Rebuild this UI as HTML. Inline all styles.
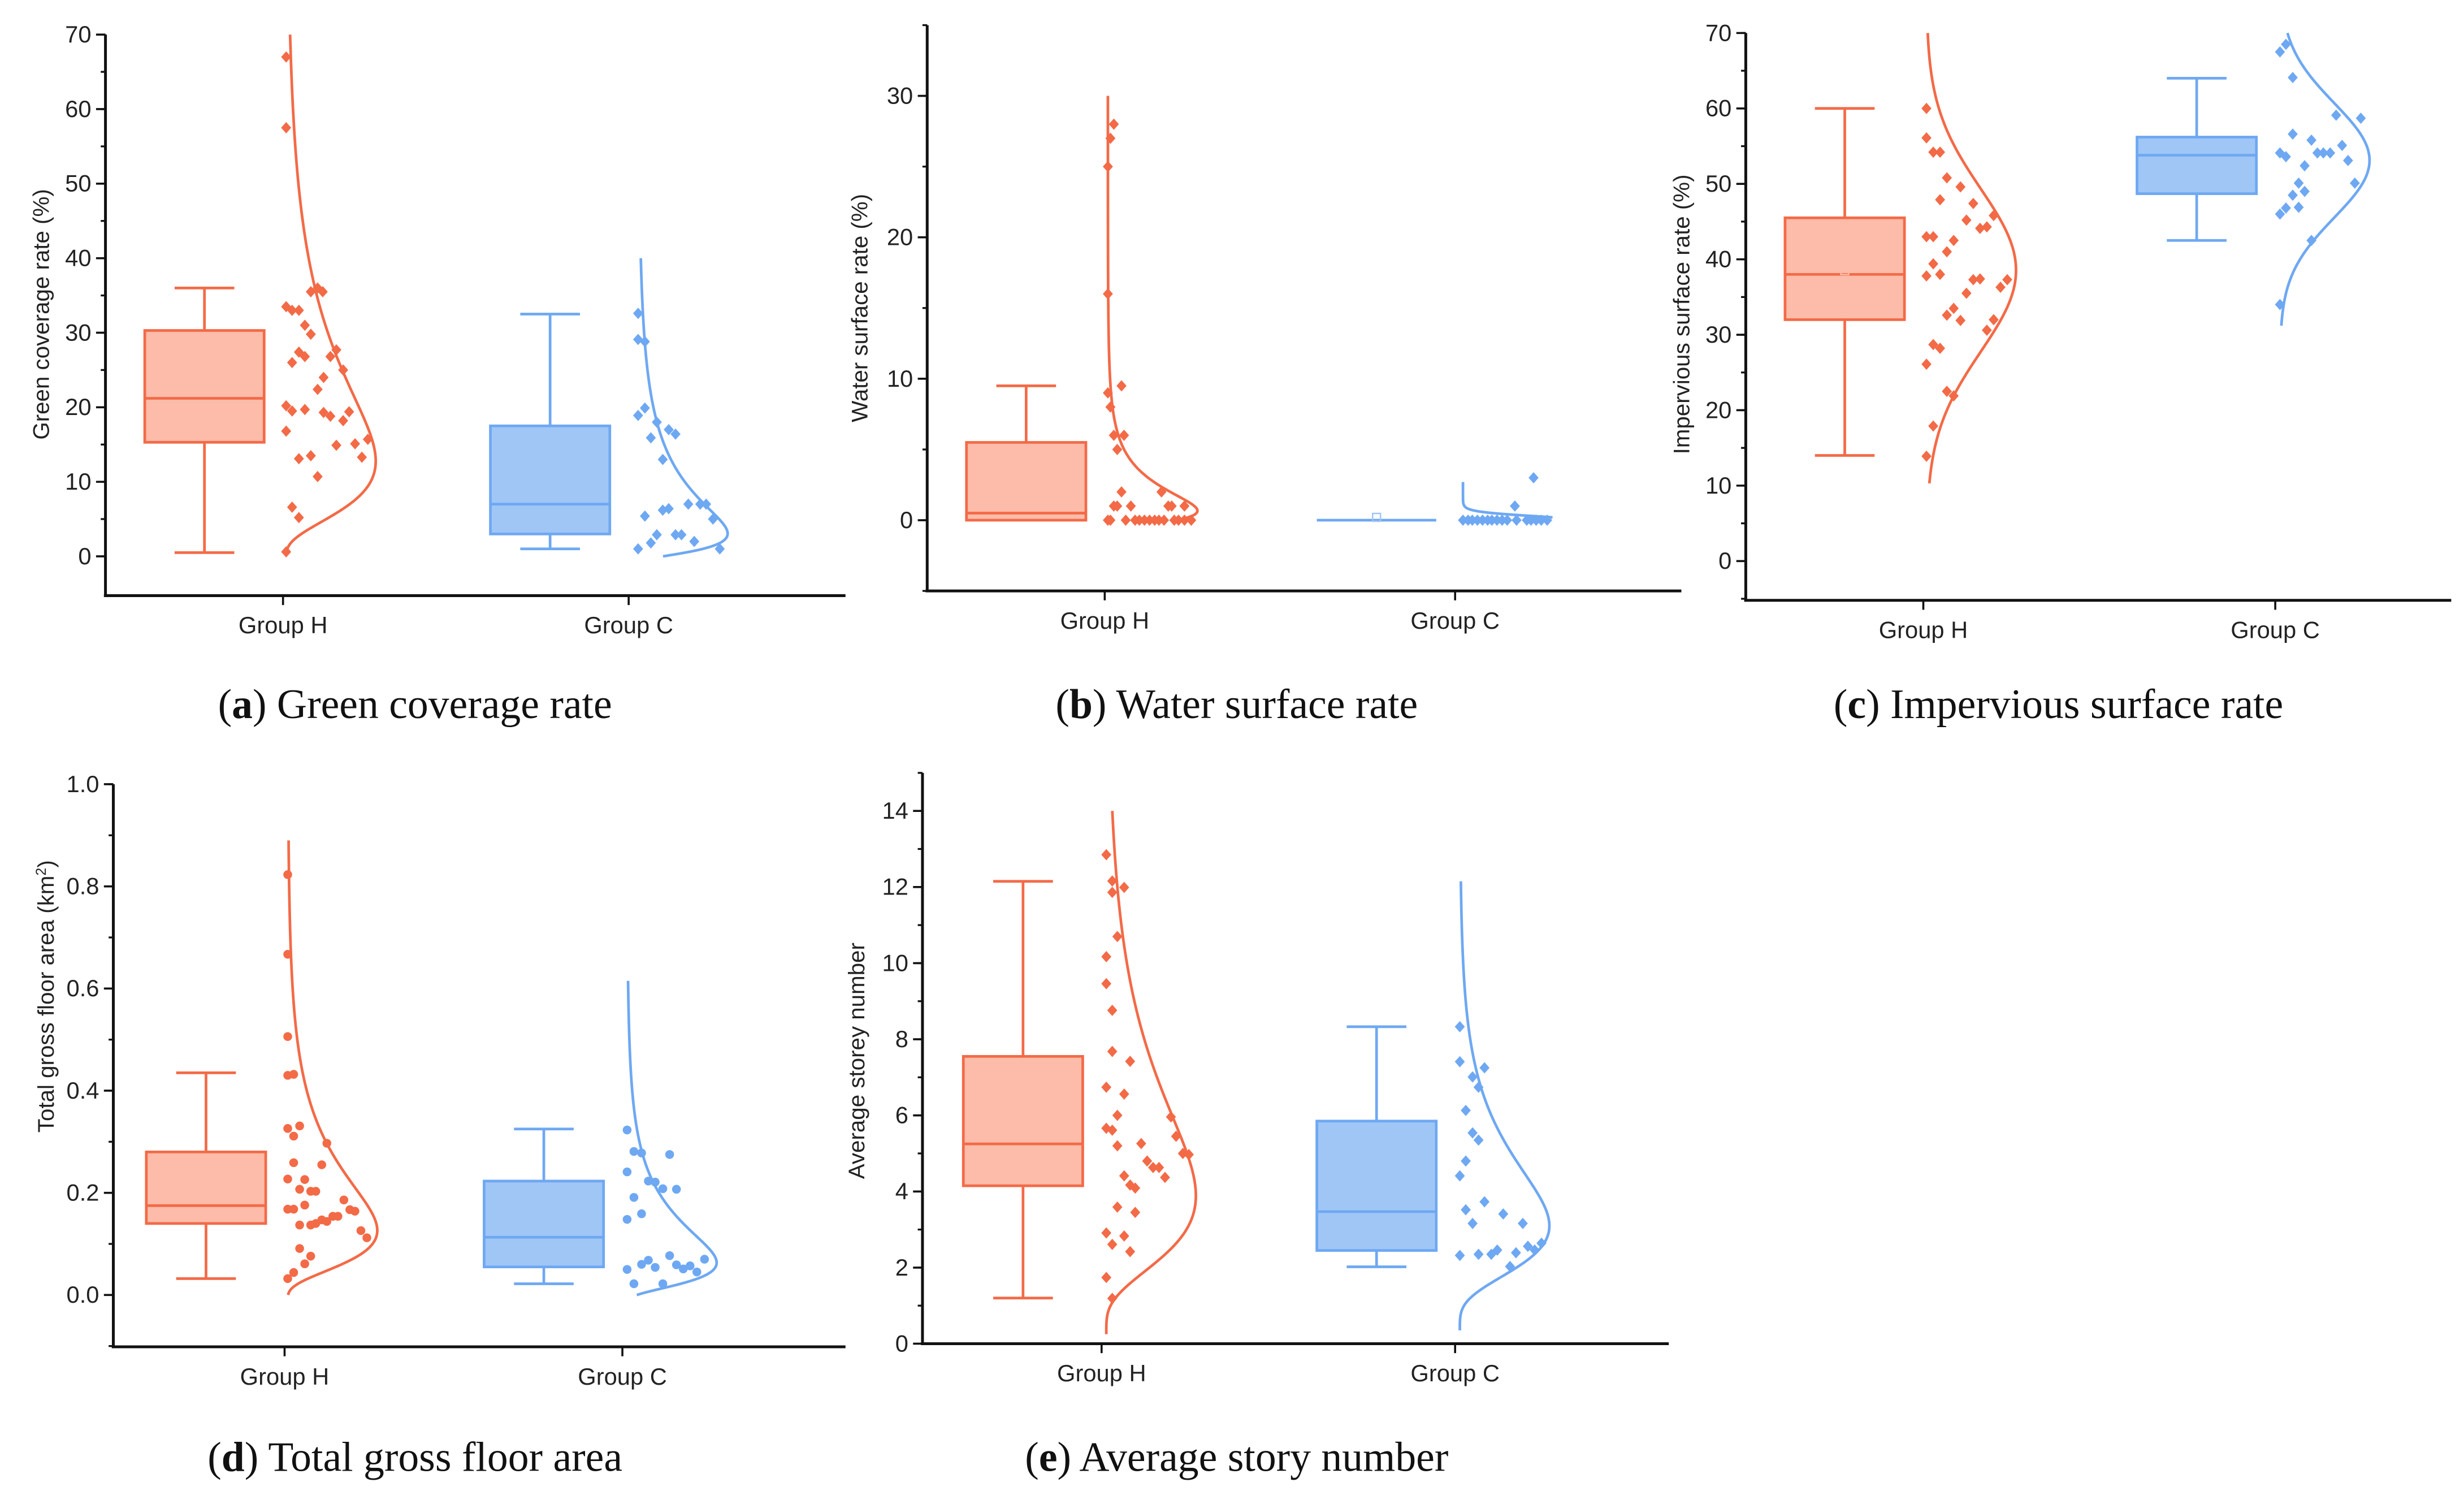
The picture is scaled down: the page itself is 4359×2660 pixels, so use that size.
<!DOCTYPE html>
<html><head><meta charset="utf-8"><style>
html,body{margin:0;padding:0;background:#fff;}
svg{display:block;}
text{font-family:"Liberation Sans",sans-serif;}
.cap{font-family:"Liberation Serif",serif;font-size:26.5px;fill:#111;}
</style></head>
<body>
<svg id="fig" xmlns="http://www.w3.org/2000/svg" width="4359" height="2660" viewBox="0 0 1568 957">
<rect width="1568" height="957" fill="#fff"/>
<text class="cap" x="264" y="457" text-anchor="middle">(<tspan font-weight="bold">a</tspan>) Green coverage rate</text>
<text class="cap" x="787" y="457" text-anchor="middle">(<tspan font-weight="bold">b</tspan>) Water surface rate</text>
<text class="cap" x="1310" y="457" text-anchor="middle">(<tspan font-weight="bold">c</tspan>) Impervious surface rate</text>
<text class="cap" x="264" y="936" text-anchor="middle">(<tspan font-weight="bold">d</tspan>) Total gross floor area</text>
<text class="cap" x="787" y="936" text-anchor="middle">(<tspan font-weight="bold">e</tspan>) Average story number</text>
</svg>
<script>
// ---------- DATA ----------
const groups = ["Group H","Group C"];
// Panel A: green coverage
const aTicks = [0,10,20,30,40,50,60,70];
const aBoxH = [0.5,15.3,21.2,30.3,36,23.8];
const aBoxC = [1,3,7,17.5,32.5,11];
const aValsH = [67,57.5,35.5,36,35.5,33.5,33,33,31,29.8,26,27.4,26.8,24,26.8,27.7,25,22.4,20.2,19.5,19.7,19.3,18.8,18.2,19.4,16.8,13.1,13.5,14.9,15.1,13.3,15.7,10.7,6.6,5.2,0.6];
const aJitH = [0,0,0.29,0.37,0.43,0,0.07,0.15,0.22,0.29,0.07,0.15,0.22,0.44,0.52,0.59,0.67,0.37,0,0.07,0.22,0.44,0.52,0.67,0.74,0,0.15,0.29,0.59,0.81,0.89,0.96,0.37,0.07,0.15,0];
const aValsC = [32.6,29.1,28.8,18.9,19.9,18,15.9,17,16.4,13,5.4,6.2,6.4,7,7,7,5,2.9,2.9,2.9,1.8,1,2,1];
const aJitC = [0,0,0.08,0,0.08,0.22,0.15,0.36,0.44,0.29,0.08,0.29,0.36,0.59,0.73,0.8,0.88,0.22,0.44,0.51,0.15,0,0.66,0.96];
const aCurveH = [0.5,70], aCurveC = [0,40];
// Panel B: water surface
const bTicks = [0,10,20,30];
const bBoxH = [0,0,0.5,5.5,9.5,4.2];
const bBoxC = [0,0,0,0,0,0.2];
const bValsH = [28,27,25,16,9.5,9,8,6,6,5,2,2,1,1,1,1,1,1,0,0,0,0,0,0,0,0,0,0,0,0,0,0];
const bJitH = [0.07,0.03,0,0,0.16,0,0.03,0.07,0.19,0.11,0.16,0.63,0.07,0.11,0.27,0.71,0.75,0.9,0,0.03,0.21,0.32,0.37,0.43,0.49,0.55,0.6,0.66,0.78,0.83,0.9,0.98];
const bValsC = [3,1,0,0,0,0,0,0,0,0,0,0,0,0,0,0,0,0];
const bJitC = [0.83,0.61,0,0.06,0.11,0.17,0.23,0.29,0.34,0.4,0.46,0.52,0.63,0.75,0.8,0.86,0.92,0.99];
const bCurveH = [0,30], bCurveC = [0.2,2.7];
// Panel C: impervious surface
const cTicks = [0,10,20,30,40,50,60,70];
const cBoxH = [14,32,38,45.5,60,38.5];
const cBoxC = [42.5,48.7,53.8,56.2,64,53];
const cValsH = [60,56.1,54.2,54.2,50.8,49.6,47.9,47.4,45.2,45.8,44.1,44.3,43,43,42.5,41,39.4,37.8,38,37.3,37.4,37.3,36.3,35.5,33.5,32.6,31.9,32,30.6,28.7,28.2,26.1,22.5,21.9,17.9,13.9];
const cJitH = [0,0,0.08,0.16,0.24,0.4,0.16,0.55,0.47,0.79,0.63,0.71,0,0.08,0.32,0.24,0.08,0,0.16,0.55,0.63,0.95,0.87,0.47,0.32,0.24,0.4,0.79,0.71,0.08,0.16,0,0.24,0.32,0.08,0];
const cValsC = [67.5,68.5,64.1,59.1,58.7,56.6,55.8,54.1,53.6,54.1,54.1,54.1,55.1,52.4,53.1,50.1,50.1,48.5,49,46,46.8,46.9,42.5,34];
const cJitC = [0,0.07,0.15,0.66,0.95,0.15,0.37,0,0.07,0.44,0.51,0.59,0.73,0.29,0.8,0.22,0.88,0.15,0.29,0,0.07,0.22,0.37,0];
const cCurveH = [10.3,70], cCurveC = [31.2,70];
// Panel D: gross floor area
const dTicks = [0,0.2,0.4,0.6,0.8,1.0];
const dBoxH = [0.032,0.14,0.175,0.28,0.435,0.23];
const dBoxC = [0.022,0.055,0.113,0.223,0.325,0.142];
const dValsH = [0.823,0.667,0.506,0.43,0.432,0.326,0.331,0.311,0.297,0.259,0.255,0.227,0.226,0.207,0.203,0.203,0.186,0.168,0.168,0.176,0.167,0.164,0.137,0.137,0.14,0.147,0.144,0.154,0.154,0.126,0.112,0.091,0.076,0.061,0.044,0.032];
const dJitH = [0,0,0,0,0.07,0,0.14,0.07,0.46,0.07,0.4,0,0.2,0.14,0.27,0.33,0.66,0,0.07,0.2,0.73,0.79,0.14,0.27,0.33,0.4,0.46,0.53,0.59,0.86,0.93,0.14,0.27,0.2,0.07,0];
const dValsC = [0.323,0.281,0.278,0.275,0.241,0.223,0.221,0.208,0.207,0.191,0.148,0.159,0.077,0.059,0.057,0.07,0.068,0.06,0.054,0.051,0.045,0.05,0.022,0.022];
const dJitC = [0,0.08,0.17,0.5,0,0.25,0.33,0.42,0.58,0.08,0,0.17,0.5,0.58,0.74,0.91,0.25,0.17,0.33,0.66,0.82,0,0.08,0.42];
const dCurveH = [0,0.89], dCurveC = [0,0.615];
// Panel E: average storey number
const eTicks = [0,2,4,6,8,10,12,14];
const eBoxH = [1.2,4.15,5.25,7.55,12.15,6.05];
const eBoxC = [2.02,2.45,3.47,5.85,8.33,4.25];
const eValsH = [12.85,12.16,11.86,11.99,10.7,10.17,9.46,8.76,7.68,7.42,6.74,6.56,6.0,5.96,5.66,5.61,5.45,5.2,5.26,5.0,4.97,4.8,4.63,4.63,4.41,4.37,4.17,4.09,3.59,3.45,2.91,2.83,2.61,2.42,1.74,1.19];
const eJitH = [0,0.07,0.07,0.21,0.13,0,0,0.07,0.07,0.28,0,0.21,0.13,0.76,0,0.07,0.82,0.13,0.41,0.9,0.97,0.48,0.55,0.62,0.21,0.69,0.28,0.34,0.13,0.34,0,0.21,0.07,0.28,0,0.07];
const eValsC = [8.33,7.41,7.25,7.01,6.74,6.13,5.54,5.35,4.8,4.41,3.73,3.41,3.52,3.16,3.16,2.32,2.35,2.35,2.46,2.39,2.56,2.46,2.64,2.03];
const eJitC = [0,0,0.29,0.15,0.22,0.07,0.15,0.22,0.07,0,0.29,0.51,0.07,0.15,0.74,0,0.22,0.37,0.44,0.66,0.8,0.88,0.96,0.59];
const eCurveH = [0.25,14], eCurveC = [0.35,12.15];

// ---------- RENDER ----------
const NS = "http://www.w3.org/2000/svg";
const svg = document.getElementById("fig");
const OR = "#f36a47", ORF = "#fcbca9", BL = "#6ea8f2", BLF = "#a0c6f6";
function mk(tag, attrs, parent){
  const el = document.createElementNS(NS, tag);
  for (const k in attrs) el.setAttribute(k, attrs[k]);
  (parent||svg).appendChild(el);
  return el;
}
function fmt(v, dec){ return v.toFixed(dec); }

function panel(cfg){
  const g = mk("g", {});
  
  
  const y = v => cfg.y0 + (v - cfg.v0) * (cfg.y1 - cfg.y0) / (cfg.v1 - cfg.v0);
  const ya = mk("line", {x1:cfg.ax, x2:cfg.ax, y1:y(cfg.vTop), y2:cfg.axB, stroke:"#111", "stroke-width":1.8}, g);
  
  
  const xa = mk("line", {x1:cfg.ax-1, x2:cfg.axR, y1:cfg.axB, y2:cfg.axB, stroke:"#111", "stroke-width":1.8}, g);
  
  
  for (let v = cfg.minorStart; v <= cfg.vTop + 1e-9; v += cfg.minor){
    if (y(v) > cfg.axB + 0.5) continue;
    const t = mk("line", {x1:cfg.ax-3, x2:cfg.ax, y1:y(v), y2:y(v), stroke:"#111", "stroke-width":1.2}, g);
    
    
  }
  cfg.ticks.forEach(v => {
    const t = mk("line", {x1:cfg.ax-6, x2:cfg.ax, y1:y(v), y2:y(v), stroke:"#111", "stroke-width":1.3}, g);
    
    
    const l = mk("text", {x:cfg.ax-9, y:y(v)+5, "text-anchor":"end", "font-size":15, fill:"#222"}, g);
    l.textContent = fmt(v, cfg.dec);
    
    
  });
  const ty = (y(cfg.ticks[0]) + y(cfg.ticks[cfg.ticks.length-1]))/2;
  const tt = mk("text", {x:0, y:0, "text-anchor":"middle", "font-size":14.5, fill:"#222",
    transform:`translate(${cfg.titleX},${cfg.titleY||ty}) rotate(-90)`}, g);
  tt.innerHTML = cfg.title;
  
  
  cfg.data.forEach((d, gi) => {
    const gx = cfg.gx[gi];
    const col = gi === 0 ? OR : BL, fill = gi === 0 ? ORF : BLF;
    const tk = mk("line", {x1:gx, x2:gx, y1:cfg.axB, y2:cfg.axB+6, stroke:"#111", "stroke-width":1.3}, g);
    
    
    const gl = mk("text", {x:gx, y:cfg.axB+24, "text-anchor":"middle", "font-size":15, fill:"#222"}, g);
    gl.textContent = groups[gi];
    
    
    const bx = gx - 50, hw = 38, cw = 19;
    const [mn, q1, md, q3, mx, mean] = d.box;
    const bg = mk("g", {stroke:col, "stroke-width":1.7, fill:"none"}, g);
    
    
    if (q3 - q1 > 0) {
      mk("rect", {x:bx-hw, y:y(q3), width:2*hw, height:y(q1)-y(q3), fill:fill}, bg);
    }
    mk("line", {x1:bx-hw, x2:bx+hw, y1:y(md), y2:y(md)}, bg);
    if (mx > q3){ mk("line", {x1:bx, x2:bx, y1:y(mx), y2:y(q3)}, bg); mk("line", {x1:bx-cw, x2:bx+cw, y1:y(mx), y2:y(mx)}, bg); }
    if (mn < q1){ mk("line", {x1:bx, x2:bx, y1:y(q1), y2:y(mn)}, bg); mk("line", {x1:bx-cw, x2:bx+cw, y1:y(mn), y2:y(mn)}, bg); }
    const mm = mk("rect", {x:bx-2.5, y:y(mean)-2.5, width:5, height:5, fill:"none", stroke:fill, "stroke-width":0.9}, g);
    
    
    const base = gx + cfg.baseOff[gi], W = 57;
    const vals = d.vals;
    let pdf;
    if (cfg.dist === "normal"){
      const m = vals.reduce((a,b)=>a+b,0)/vals.length;
      const s = Math.sqrt(vals.reduce((a,b)=>a+(b-m)*(b-m),0)/(vals.length-1));
      pdf = v => Math.exp(-(v-m)*(v-m)/(2*s*s));
    } else {
      const sh = cfg.shift;
      const L = vals.map(v => Math.log(v + sh));
      const m = L.reduce((a,b)=>a+b,0)/L.length;
      const s = Math.sqrt(L.reduce((a,b)=>a+(b-m)*(b-m),0)/(L.length-1)) * (cfg.sigMul||1);
      pdf = v => { const z = Math.log(v+sh); return Math.exp(-(z-m)*(z-m)/(2*s*s))/(v+sh); };
    }
    const [lo, hi] = d.curve;
    const N = 300; let pts = [], mxd = 0;
    for (let i = 0; i <= N; i++){ const v = lo + (hi-lo)*i/N; const p = pdf(v); pts.push([v,p]); if (p > mxd) mxd = p; }
    const dstr = pts.map((p,i)=>(i?"L":"M")+(base + W*p[1]/mxd).toFixed(2)+","+y(p[0]).toFixed(2)).join(" ");
    const cv = mk("path", {d:dstr, fill:"none", stroke:col, "stroke-width":1.7}, g);
    
    
    vals.forEach((v, i) => {
      const px = base + d.jit[i]*W*0.95, py = y(v);
      let p;
      if (cfg.marker === "circle") p = mk("circle", {cx:px, cy:py, r:2.8, fill:col}, g);
      else p = mk("path", {d:`M${px},${py-3.6}L${px+3.2},${py}L${px},${py+3.6}L${px-3.2},${py}Z`, fill:col}, g);
      
      
    });
  });
}

panel({name:"panel-a-green-coverage", ax:67, axB:379, axR:538, y0:354, v0:0, y1:22, v1:70, vTop:70,
  ticks:aTicks, dec:0, minor:5, minorStart:0, title:"Green coverage rate (%)", titleX:31, titleY:200,
  gx:[180,400], baseOff:[2,6], dist:"lognormal", shift:1, marker:"diamond",
  data:[{box:aBoxH, vals:aValsH, jit:aJitH, curve:aCurveH},{box:aBoxC, vals:aValsC, jit:aJitC, curve:aCurveC}]});
panel({name:"panel-b-water-surface", ax:590, axB:376, axR:1070, y0:331, v0:0, y1:61, v1:30, vTop:35,
  ticks:bTicks, dec:0, minor:5, minorStart:-5, title:"Water surface rate (%)", titleX:552, titleY:196,
  gx:[703,926], baseOff:[2,5], dist:"lognormal", shift:1, sigMul:0.6, marker:"diamond",
  data:[{box:bBoxH, vals:bValsH, jit:bJitH, curve:bCurveH},{box:bBoxC, vals:bValsC, jit:bJitC, curve:bCurveC}]});
panel({name:"panel-c-impervious-surface", ax:1111, axB:382, axR:1560, y0:357, v0:0, y1:21, v1:70, vTop:70,
  ticks:cTicks, dec:0, minor:5, minorStart:-5, title:"Impervious surface rate (%)", titleX:1075, titleY:200,
  gx:[1224,1448], baseOff:[2,3], dist:"normal", marker:"diamond",
  data:[{box:cBoxH, vals:cValsH, jit:cJitH, curve:cCurveH},{box:cBoxC, vals:cValsC, jit:cJitC, curve:cCurveC}]});
panel({name:"panel-d-gross-floor-area", ax:72, axB:857, axR:538, y0:824, v0:0, y1:499, v1:1.0, vTop:1.0,
  ticks:dTicks, dec:1, minor:0.1, minorStart:-0.1, title:"Total gross floor area (km<tspan baseline-shift='super' font-size='9'>2</tspan>)", titleX:34, titleY:634,
  gx:[181,396], baseOff:[2,3], dist:"lognormal", shift:0.02, marker:"circle",
  data:[{box:dBoxH, vals:dValsH, jit:dJitH, curve:dCurveH},{box:dBoxC, vals:dValsC, jit:dJitC, curve:dCurveC}]});
panel({name:"panel-e-average-storey", ax:587, axB:855, axR:1062, y0:855, v0:0, y1:516, v1:14, vTop:15,
  ticks:eTicks, dec:0, minor:1, minorStart:1, title:"Average storey number", titleX:550, titleY:675,
  gx:[701,926], baseOff:[3,3], dist:"lognormal", shift:0, marker:"diamond",
  data:[{box:eBoxH, vals:eValsH, jit:eJitH, curve:eCurveH},{box:eBoxC, vals:eValsC, jit:eJitC, curve:eCurveC}]});
</script>
</body></html>
